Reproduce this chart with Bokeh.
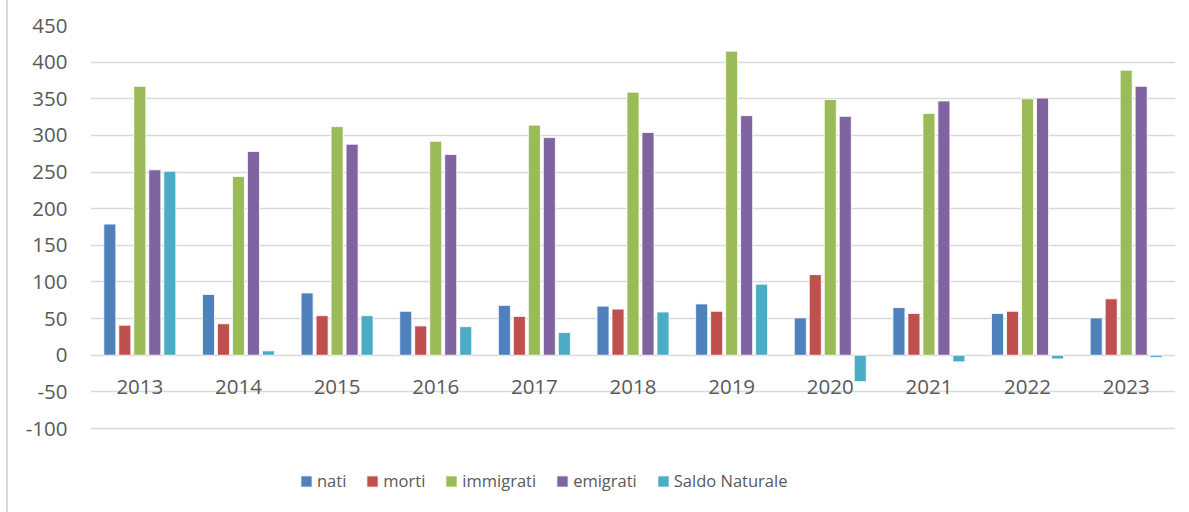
from bokeh.plotting import figure
from bokeh.models import ColumnDataSource, FactorRange, Range1d, FixedTicker, Legend, LegendItem
from bokeh.transform import dodge
from bokeh.core.properties import value
from bokeh.embed import file_html
from bokeh.resources import INLINE

years = ["2013", "2014", "2015", "2016", "2017", "2018", "2019", "2020", "2021", "2022", "2023"]
nati = [179, 83, 85, 60, 68, 67, 70, 51, 65, 57, 51]
morti = [41, 43, 54, 40, 53, 63, 60, 110, 57, 60, 77]
immigrati = [367, 244, 312, 292, 314, 359, 415, 349, 330, 350, 389]
emigrati = [253, 278, 288, 274, 297, 304, 327, 326, 347, 351, 367]
saldo = [251, 6, 54, 39, 31, 59, 97, -36, -9, -5, -3]

series_names = ["nati", "morti", "immigrati", "emigrati", "Saldo Naturale"]
series_keys = ["nati", "morti", "immigrati", "emigrati", "saldo"]
colors = ["#4F81BD", "#C0504D", "#9BBB59", "#8064A2", "#4BACC6"]
y_ticks = [-100, -50, 0, 50, 100, 150, 200, 250, 300, 350, 400, 450]

src = ColumnDataSource(dict(years=years, nati=nati, morti=morti, immigrati=immigrati,
                            emigrati=emigrati, saldo=saldo, zero=[0] * len(years)))

p = figure(width=1181, height=512, output_backend="svg", toolbar_location=None,
           x_range=FactorRange(factors=years, range_padding=0),
           y_range=Range1d(-214.6, 450),
           min_border_left=90, min_border_right=6, min_border_top=25, min_border_bottom=0)
p.outline_line_color = None
p.border_fill_alpha = 0
p.styles = {"background": "linear-gradient(to right, #FFFFFF 6px, #D9D9D9 6px, #D9D9D9 8px, #FFFFFF 8px)"}
p.xaxis.visible = False
p.xgrid.grid_line_color = None
p.ygrid.grid_line_color = "#D9D9D9"
p.ygrid.grid_line_width = 1.5
p.yaxis.ticker = FixedTicker(ticks=y_ticks)
p.yaxis.major_label_overrides = {t: str(t) for t in y_ticks}
p.yaxis.axis_line_color = None
p.yaxis.major_tick_line_color = None
p.yaxis.minor_tick_line_color = None
p.yaxis.major_tick_out = 0
p.yaxis.major_label_standoff = 23
p.yaxis.major_label_text_font = "Open Sans"
p.yaxis.major_label_text_font_size = "20.5px"
p.yaxis.major_label_text_color = "#595959"

pitch = 0.152
bw = 0.122
items = []
for i, (key, name, col) in enumerate(zip(series_keys, series_names, colors)):
    off = (i - 2) * pitch
    r = p.vbar(x=dodge("years", off, range=p.x_range), top=key, bottom="zero", width=bw,
               source=src, fill_color=col, line_color="white", line_width=0.8)
    items.append(LegendItem(label=name, renderers=[r]))

p.text(x="years", y="zero", text="years", source=src, text_align="center",
       text_baseline="middle", y_offset=32, text_font=value("Open Sans"),
       text_font_size="20.5px", text_color="#595959")

legend = Legend(items=items, orientation="horizontal", location=(209, 20),
                glyph_width=14, glyph_height=14, label_standoff=4, spacing=19,
                padding=0, margin=0, border_line_alpha=0, background_fill_alpha=0,
                label_text_font="Open Sans", label_text_font_size="16.5px",
                label_text_color="#595959")
p.add_layout(legend, "center")

open("out.html", "w").write(file_html(p, INLINE))
